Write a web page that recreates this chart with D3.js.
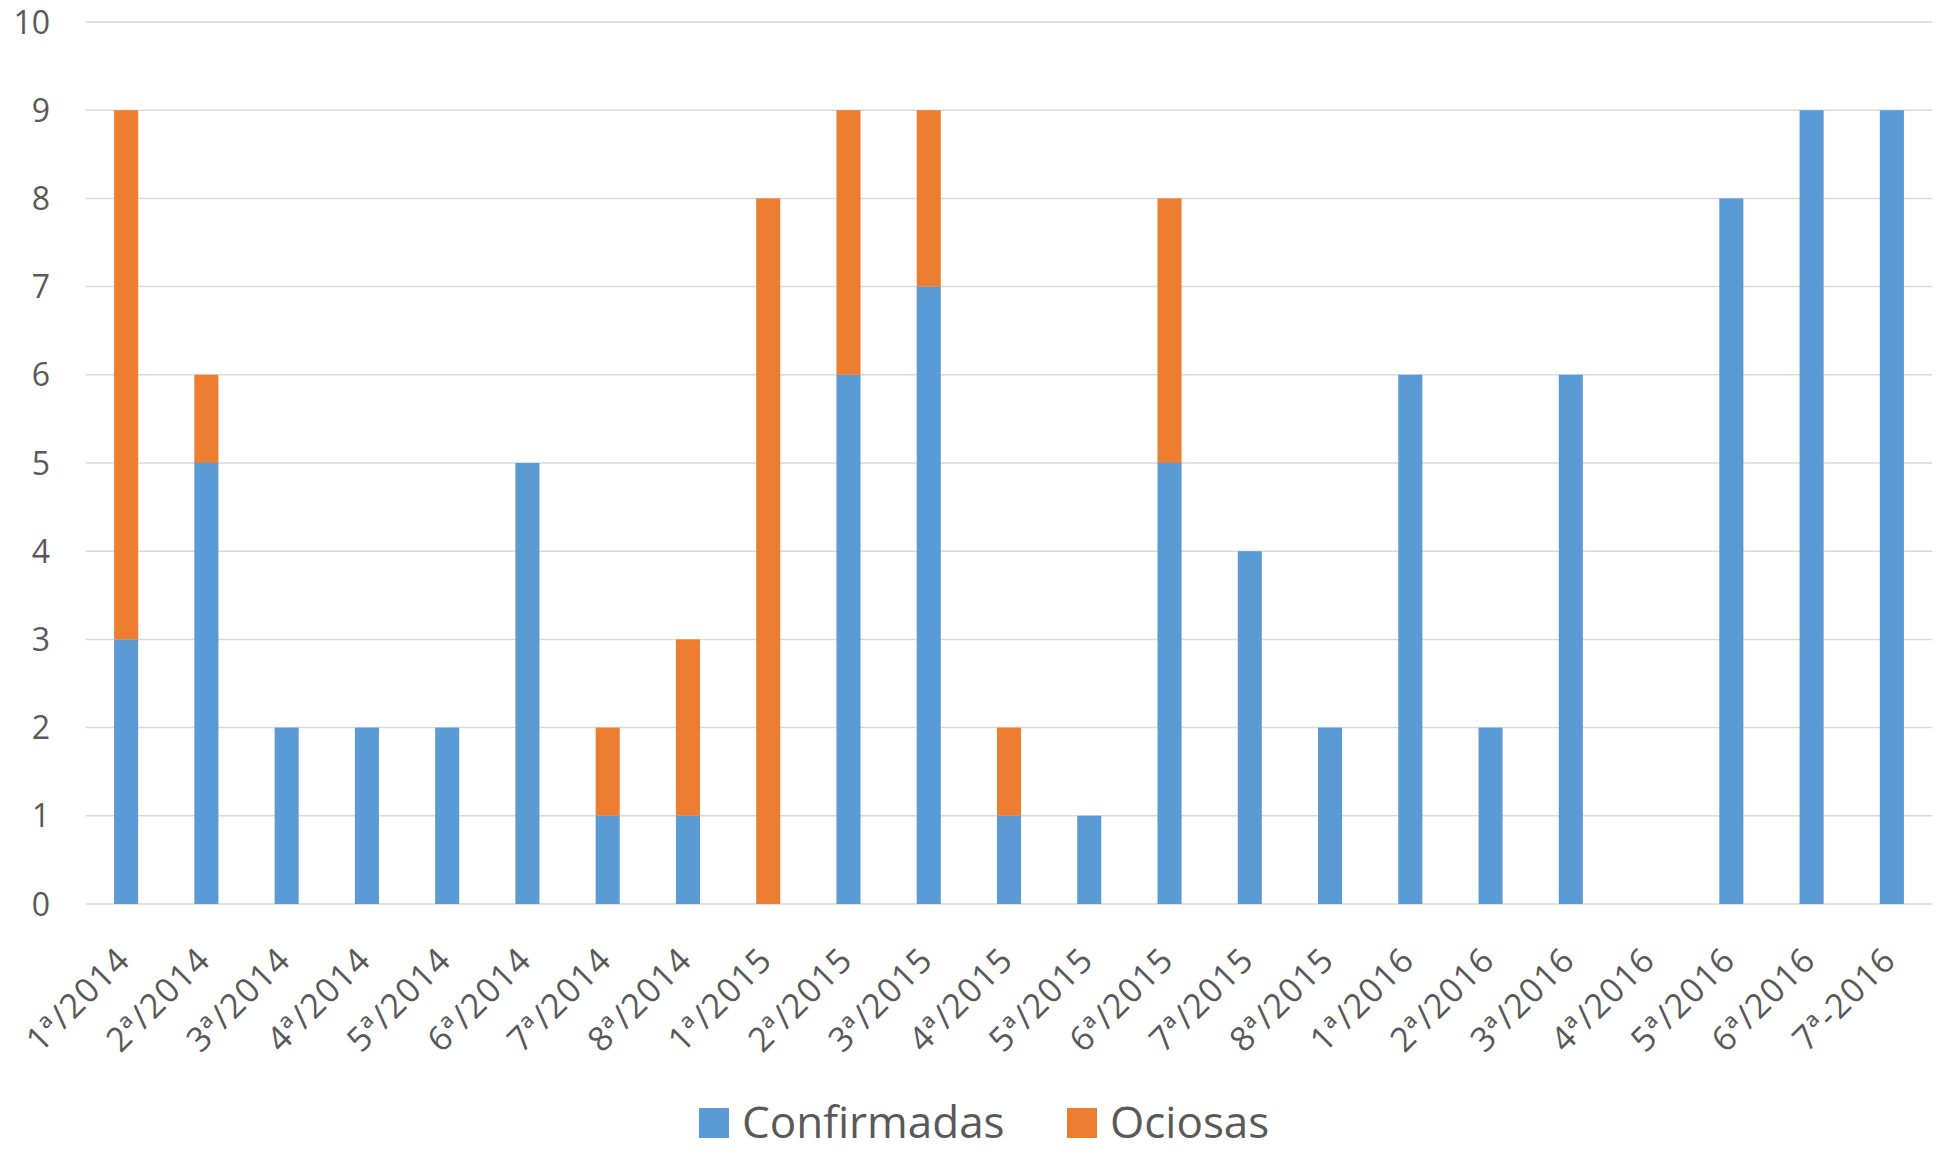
<!DOCTYPE html>
<html><head><meta charset="utf-8">
<script src="https://cdn.jsdelivr.net/npm/d3@7"></script>
<style>body{margin:0;background:#fff;} text{font-family:"Open Sans",sans-serif;fill:#595959;}</style>
</head><body>
<svg id="chart" width="1946" height="1151"></svg>
<script>
const categories = ["1ª/2014","2ª/2014","3ª/2014","4ª/2014","5ª/2014","6ª/2014","7ª/2014","8ª/2014",
  "1ª/2015","2ª/2015","3ª/2015","4ª/2015","5ª/2015","6ª/2015","7ª/2015","8ª/2015",
  "1ª/2016","2ª/2016","3ª/2016","4ª/2016","5ª/2016","6ª/2016","7ª-2016"];
const confirmadas = [3,5,2,2,2,5,1,1,0,6,7,1,1,5,4,2,6,2,6,0,8,9,9];
const ociosas     = [6,1,0,0,0,0,1,2,8,3,2,1,0,3,0,0,0,0,0,0,0,0,0];
const seriesNames = ["Confirmadas","Ociosas"];
const yTicks = [0,1,2,3,4,5,6,7,8,9,10];
const colors = ["#5B9BD5","#ED7D31"];

const svg = d3.select("#chart");
const mLeft = 86, mRight = 1932, mTop = 22, mBottom = 904;
const x = d3.scaleBand().domain(categories).range([mLeft, mRight]).paddingInner(0.7).paddingOuter(0.35);
const y = d3.scaleLinear().domain([0,10]).range([mBottom, mTop]);

// gridlines
svg.append("g").selectAll("line").data(yTicks).join("line")
  .attr("x1", mLeft).attr("x2", mRight)
  .attr("y1", d => y(d)).attr("y2", d => y(d))
  .attr("stroke", "#D9D9D9").attr("stroke-width", 1.5);

// y tick labels
svg.append("g").selectAll("text").data(yTicks).join("text")
  .attr("x", 50).attr("y", d => y(d)).attr("dy", "0.36em")
  .attr("text-anchor", "end").style("font-size", "32px").text(d => d);

// stacked bars
const table = categories.map((c, i) => ({cat: c, Confirmadas: confirmadas[i], Ociosas: ociosas[i]}));
const stacked = d3.stack().keys(seriesNames)(table);
svg.append("g").selectAll("g").data(stacked).join("g")
  .attr("fill", (d, i) => colors[i])
  .selectAll("rect").data(d => d).join("rect")
  .attr("x", d => x(d.data.cat)).attr("width", x.bandwidth())
  .attr("y", d => y(d[1])).attr("height", d => y(d[0]) - y(d[1]));

// x labels
svg.append("g").selectAll("text").data(categories).join("text")
  .attr("transform", d => `translate(${x(d) + x.bandwidth()/2 + 6},${962}) rotate(-45)`)
  .attr("text-anchor", "end").style("font-size", "34px").style("letter-spacing", "1.2px").text(d => d);

// legend
const legend = svg.append("g");
const legendX = [699, 1067];
seriesNames.forEach((s, i) => {
  legend.append("rect").attr("x", legendX[i]).attr("y", 1108).attr("width", 30).attr("height", 30).attr("fill", colors[i]);
  legend.append("text").attr("x", legendX[i] + 43).attr("y", 1122).attr("dy", "0.36em")
    .style("font-size", "44px").text(s);
});
</script>
</body></html>
